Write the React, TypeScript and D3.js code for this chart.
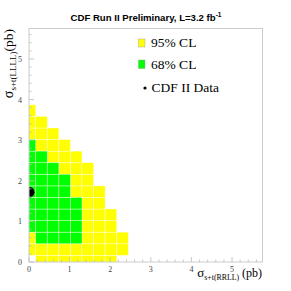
import React from 'react';
import * as d3 from 'd3';

// bin grid (pb)
const binStart = -0.12;
const binWidth = 0.285;

// per x-bin column: lowest / highest y-bin filled
const cl95Lo = [1, 0, 0, 0, 0, 0, 0, 0, 1];
const cl95Hi = [13, 12, 11, 10, 9, 8, 6, 4, 2];
const cl68Lo = [3, 2, 2, 2, 2];
const cl68Hi = [10, 9, 8, 7, 5];

const dataX = [0];
const dataY = [1.72];

const majorTicks = [0, 1, 2, 3, 4, 5];

const W = 291;
const H = 291;
const left = 29, right = 262.5, top = 28.5, bottom = 262;

const App = () => {
  const x = d3.scaleLinear().domain([0, 5.75]).range([left, right]);
  const y = d3.scaleLinear().domain([0, 5.75]).range([bottom, top]);
  const minor = d3.range(0, 5.75, 0.2);

  const cells = (lo: number[], hi: number[]) =>
    lo.flatMap((l, i) =>
      d3.range(l, hi[i] + 1).map(j => ({
        x0: binStart + i * binWidth,
        y0: binStart + j * binWidth,
      }))
    );

  const c95 = cells(cl95Lo, cl95Hi);
  const c68 = cells(cl68Lo, cl68Hi);

  const rect = (d, fill, k) => (
    <rect key={k}
      x={x(d.x0)} y={y(d.y0 + binWidth)}
      width={x(d.x0 + binWidth) - x(d.x0)}
      height={y(d.y0) - y(d.y0 + binWidth)}
      fill={fill} stroke="#ffffff" strokeOpacity={0.55} strokeWidth={0.7} />
  );

  const serif = '"Liberation Serif", "DejaVu Serif", serif';

  return (
    <svg width={W} height={H} style={{ position: 'absolute', left: 0, top: 0, background: '#fff' }}>
      <defs>
        <clipPath id="plotclip">
          <rect x={left} y={top} width={right - left} height={bottom - top} />
        </clipPath>
      </defs>

      <text x={146} y={21} textAnchor="middle" fontFamily='"Liberation Sans", Arial, sans-serif'
        fontWeight="bold" fontSize={9.6} fill="#000">
        CDF Run II Preliminary, L=3.2 fb<tspan dy={-4} fontSize={6.5}>-1</tspan>
      </text>

      <g clipPath="url(#plotclip)">
        {c95.map((d, k) => rect(d, '#ffff00', 'y' + k))}
        {c68.map((d, k) => rect(d, '#00ff00', 'g' + k))}
        {dataX.map((v, k) => (
          <circle key={k} cx={x(v)} cy={y(dataY[k])} r={5.5} fill="#000" />
        ))}
      </g>

      {/* frame */}
      <rect x={left} y={top} width={right - left} height={bottom - top}
        fill="none" stroke="#cccccc" strokeWidth={1} />

      {/* ticks */}
      {minor.map((v, k) => (
        <g key={'m' + k} stroke="#bbbbbb" strokeWidth={0.8}>
          <line x1={x(v)} x2={x(v)} y1={bottom} y2={bottom - (Math.abs(v - Math.round(v)) < 1e-6 ? 5 : 2.5)} />
          <line y1={y(v)} y2={y(v)} x1={left} x2={left + (Math.abs(v - Math.round(v)) < 1e-6 ? 5 : 2.5)} />
        </g>
      ))}

      {majorTicks.map(v => (
        <g key={'t' + v} fontFamily={serif} fontSize={8} fill="#444">
          <text x={x(v)} y={271.5} textAnchor="middle">{v}</text>
          <text x={22} y={y(v) + 3} textAnchor="end">{v}</text>
        </g>
      ))}

      {/* x label */}
      <text x={262} y={277} textAnchor="end" fontFamily={serif} fill="#000" fontSize={12}>
        <tspan fontSize={13}>σ</tspan>
        <tspan dy={3} fontSize={7.8}>s+t(RRLL)</tspan>
        <tspan dy={-3}> (pb)</tspan>
      </text>

      {/* y label */}
      <text transform="translate(13,29) rotate(-90)" textAnchor="end" fontFamily={serif} fill="#000" fontSize={13.5}>
        <tspan fontSize={14}>σ</tspan>
        <tspan dy={3} fontSize={9}>s+t(LLLL)</tspan>
        <tspan dy={-3}>(pb)</tspan>
      </text>

      {/* legend */}
      <rect x={138.5} y={39} width={6.5} height={8} fill="#ffff00" stroke="#999" strokeWidth={0.4} />
      <text x={151} y={46.5} fontFamily={serif} fontSize={13.5} fill="#000">95% CL</text>
      <rect x={138.5} y={60} width={6.5} height={8.5} fill="#00ff00" stroke="#999" strokeWidth={0.4} />
      <text x={151} y={68.5} fontFamily={serif} fontSize={13.5} fill="#000">68% CL</text>
      <circle cx={145} cy={88} r={1.6} fill="#000" />
      <text x={151.5} y={91.5} fontFamily={serif} fontSize={13.5} fill="#000">CDF II Data</text>
    </svg>
  );
};

export default App;
